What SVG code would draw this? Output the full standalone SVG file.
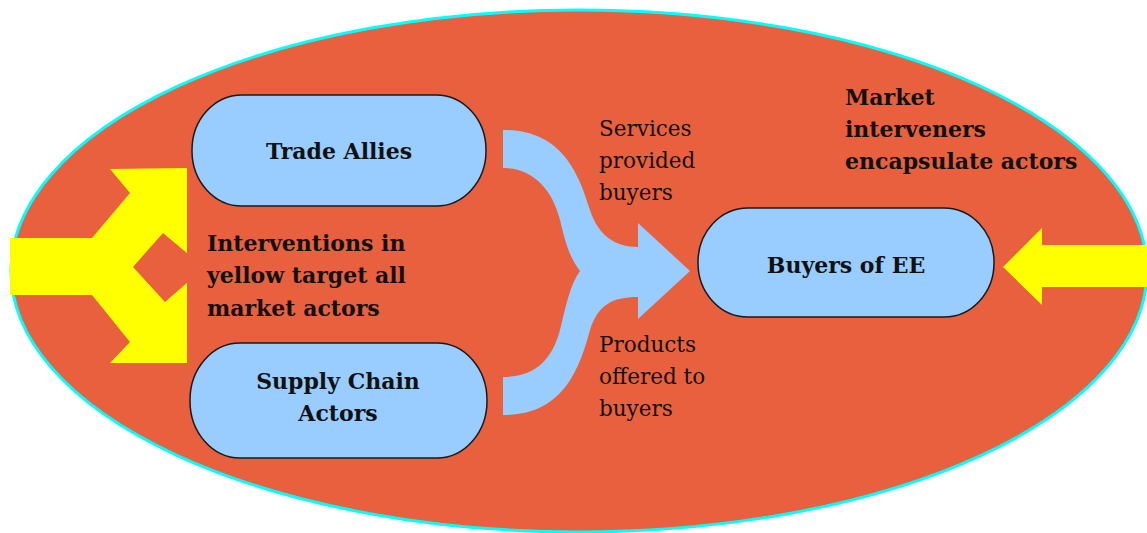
<svg xmlns="http://www.w3.org/2000/svg" width="1147" height="533" viewBox="0 0 1147 533">
  <style>
    .field { fill: #E8603D; stroke: #00FFFF; stroke-width: 3; }
    .node { fill: #99CCFF; stroke: #1A1A1A; stroke-width: 1.5; }
    .flow { fill: #99CCFF; }
    .push { fill: #FFFF00; }
    .hole { fill: #E8603D; }
    .label { font-family: "DejaVu Serif", "Liberation Serif", serif; font-weight: bold; font-size: 22px; fill: #111; }
    .note { font-family: "DejaVu Serif", "Liberation Serif", serif; font-size: 21.5px; fill: #111; }
  </style>

  <!-- market boundary -->
  <ellipse class="field" cx="579" cy="271" rx="568" ry="261"/>

  <!-- yellow interventions: forked arrow on the left, plain arrow on the right -->
  <g id="intervention-left">
    <polygon class="push" points="10,238 92,238 130,193 110,169 187,168 187,363 110,363 130,342 92,295 10,295"/>
    <polygon class="hole" points="163,233 188,254 188,282 165,302 133,267"/>
  </g>
  <g id="intervention-right">
    <polygon class="push" points="1003,267 1042,228 1042,245 1147,245 1147,287 1042,287 1042,305"/>
  </g>

  <!-- merging flow from suppliers to buyers -->
  <g id="connectors">
    <path class="flow" d="M503,130 C560,130 578,170 590,210 C598,235 615,247 638,247 L638,223 L690,271 L638,319 L638,297 C612,297 598,305 590,330 C578,375 560,415 503,415 L503,377 C535,377 552,360 560,330 C566,305 570,285 580,271 C570,258 566,245 560,220 C552,188 532,168 503,168 Z"/>
  </g>

  <g id="node-trade-allies">
    <rect class="node" x="192" y="95" width="294" height="111" rx="50" ry="55"/>
    <text class="label" x="339" y="159" text-anchor="middle">Trade Allies</text>
  </g>

  <g id="node-supply-chain">
    <rect class="node" x="190" y="343" width="297" height="115" rx="50" ry="57"/>
    <text class="label" x="338" y="389" text-anchor="middle">Supply Chain</text>
    <text class="label" x="338" y="421" text-anchor="middle">Actors</text>
  </g>

  <g id="node-buyers">
    <rect class="node" x="698" y="208" width="296" height="109" rx="50" ry="54"/>
    <text class="label" x="846" y="273" text-anchor="middle">Buyers of EE</text>
  </g>

  <g id="note-interventions">
    <text class="label" x="207" y="251">Interventions in</text>
    <text class="label" x="207" y="283">yellow target all</text>
    <text class="label" x="207" y="316">market actors</text>
  </g>

  <g id="note-interveners">
    <text class="label" x="845" y="105">Market</text>
    <text class="label" x="845" y="137">interveners</text>
    <text class="label" x="845" y="169">encapsulate actors</text>
  </g>

  <g id="note-services">
    <text class="note" x="599" y="136">Services</text>
    <text class="note" x="599" y="168">provided</text>
    <text class="note" x="599" y="200">buyers</text>
  </g>

  <g id="note-products">
    <text class="note" x="599" y="352">Products</text>
    <text class="note" x="599" y="384">offered to</text>
    <text class="note" x="599" y="416">buyers</text>
  </g>
</svg>
